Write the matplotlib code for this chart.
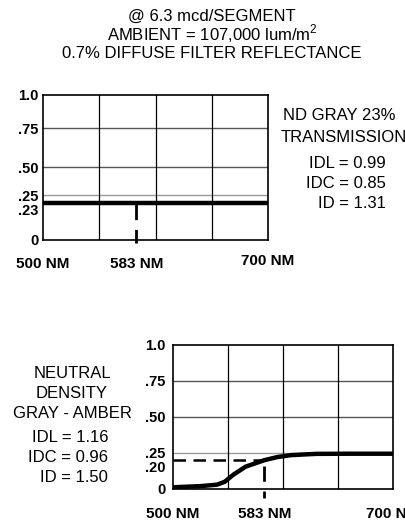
import numpy as np
import matplotlib
matplotlib.use('Agg')
import matplotlib.pyplot as plt
from matplotlib.transforms import ScaledTranslation

plt.rcParams['font.family'] = ['Liberation Sans', 'DejaVu Sans']
plt.rcParams['mathtext.fontset'] = 'custom'
plt.rcParams['mathtext.rm'] = 'Liberation Sans'

# ---------------- data ----------------
title_lines = ['@ 6.3 mcd/SEGMENT',
               'AMBIENT = 107,000 lum/m$^{2}$',
               '0.7% DIFFUSE FILTER REFLECTANCE']

x_min, x_max = 500, 700
x_grid = [550, 600, 650]
peak_nm = 583
x_tick_vals = [500, 583, 700]
x_tick_labels = ['500 NM', '583 NM', '700 NM']

# top panel: ND gray 23 % transmission
top_y_ticks = [0, 0.23, 0.25, 0.50, 0.75, 1.0]
top_y_labels = ['0', '.23', '.25', '.50', '.75', '1.0']
top_grid_y = [0.25, 0.50, 0.75]
top_wl = [500, 700]
top_trans = [0.23, 0.23]
top_level = 0.23
top_name = ['ND GRAY 23%', 'TRANSMISSION']
top_stats = ['IDL = 0.99', 'IDC = 0.85', 'ID = 1.31']

# bottom panel: neutral density gray - amber
bot_y_ticks = [0, 0.20, 0.25, 0.50, 0.75, 1.0]
bot_y_labels = ['0', '.20', '.25', '.50', '.75', '1.0']
bot_grid_y = [0.25, 0.50, 0.75]
bot_wl = [500, 525, 540, 547, 555, 566, 583, 595, 607, 630, 660, 700]
bot_trans = [0.012, 0.02, 0.03, 0.05, 0.10, 0.155, 0.20, 0.222, 0.235, 0.244, 0.245, 0.245]
bot_level = 0.20
bot_name = ['NEUTRAL', 'DENSITY', 'GRAY - AMBER']
bot_stats = ['IDL = 1.16', 'IDC = 0.96', 'ID = 1.50']

# ---------------- layout ----------------
W, H = 405, 523
fig = plt.figure(figsize=(W / 100, H / 100), dpi=100)


def fx(px):
    return px / W


def fy(py):
    return 1 - py / H


# schematic (non-uniform) vertical spacing of the top panel
knot_v = [-1.0, 0.0, 0.23, 0.25, 0.50, 0.75, 1.0, 2.0]
knot_p = [-1.0, 0.0, 0.255, 0.31, 0.503, 0.772, 1.0, 2.0]


def fwd(v):
    return np.interp(v, knot_v, knot_p)


def inv(p):
    return np.interp(p, knot_p, knot_v)


XT_FS = 11
YT_FS = 10.5
TEXT_FS = 12


def style_axes(ax, y_ticks, y_labels, grid_y, shifted_label, xpad, ypad):
    ax.set_xlim(x_min, x_max)
    ax.set_ylim(0, 1)
    for gy in grid_y:
        c = '#9a9a9a' if gy == 0.25 else '#555555'
        ax.axhline(gy, color=c, lw=1.0, zorder=1)
    for gx in x_grid:
        ax.axvline(gx, color='black', lw=0.9, zorder=1)
    for s in ax.spines.values():
        s.set_color('black')
        s.set_linewidth(1.2)
    ax.set_xticks(x_tick_vals, x_tick_labels)
    ax.set_yticks(y_ticks, y_labels)
    ax.tick_params(length=0)
    ax.tick_params(axis='x', pad=xpad, labelsize=XT_FS)
    ax.tick_params(axis='y', pad=ypad, labelsize=YT_FS)
    for lab in ax.get_xticklabels() + ax.get_yticklabels():
        lab.set_fontweight('bold')
    for lab in ax.get_yticklabels():
        if lab.get_text() == shifted_label:
            lab.set_transform(lab.get_transform() +
                              ScaledTranslation(0, -0.06, fig.dpi_scale_trans))


# ---------------- top panel ----------------
ax1 = fig.add_axes([fx(43), fy(240), fx(225), 145 / H])
ax1.set_yscale('function', functions=(fwd, inv))
style_axes(ax1, top_y_ticks, top_y_labels, top_grid_y, '.23', xpad=12.5, ypad=3.5)
ax1.plot(top_wl, top_trans, color='black', lw=3.2, solid_capstyle='butt', zorder=3)
ax1.plot([peak_nm, peak_nm], [top_level, -0.02], color='black', lw=2.0,
         dashes=(6, 3.5), clip_on=False, zorder=3)
for lab in ax1.get_xticklabels():
    if lab.get_text() == '700 NM':
        lab.set_transform(lab.get_transform() +
                          ScaledTranslation(0, 0.03, fig.dpi_scale_trans))

# ---------------- bottom panel ----------------
ax2 = fig.add_axes([fx(173), fy(489), fx(220), 144 / H])
style_axes(ax2, bot_y_ticks, bot_y_labels, bot_grid_y, '.20', xpad=13, ypad=5.5)
ax2.plot(bot_wl, bot_trans, color='black', lw=3.2, solid_capstyle='round',
         solid_joinstyle='round', zorder=3)
ax2.plot([x_min, peak_nm], [bot_level, bot_level], color='black', lw=1.8,
         dashes=(5, 3), zorder=2)
ax2.plot([peak_nm, peak_nm], [bot_level - 0.04, -0.06], color='black', lw=2.0,
         dashes=(5.5, 3.5), clip_on=False, zorder=2)

# ---------------- texts ----------------
for line, py in zip(title_lines, [16, 34, 53]):
    fig.text(fx(212), fy(py), line, ha='center', va='center', fontsize=TEXT_FS)

fig.text(fx(339), fy(115), top_name[0], ha='center', va='center', fontsize=TEXT_FS)
fig.text(fx(281), fy(137), top_name[1], ha='left', va='center', fontsize=TEXT_FS)
for line, py in zip(top_stats, [164, 184, 204]):
    fig.text(fx(386), fy(py), line, ha='right', va='center', fontsize=TEXT_FS)

for line, py in zip(bot_name, [373, 393, 413]):
    fig.text(fx(72), fy(py), line, ha='center', va='center', fontsize=TEXT_FS)
for line, py in zip(bot_stats, [437, 457, 477]):
    fig.text(fx(108), fy(py), line, ha='right', va='center', fontsize=TEXT_FS)

fig.savefig('out.png', dpi=100)
